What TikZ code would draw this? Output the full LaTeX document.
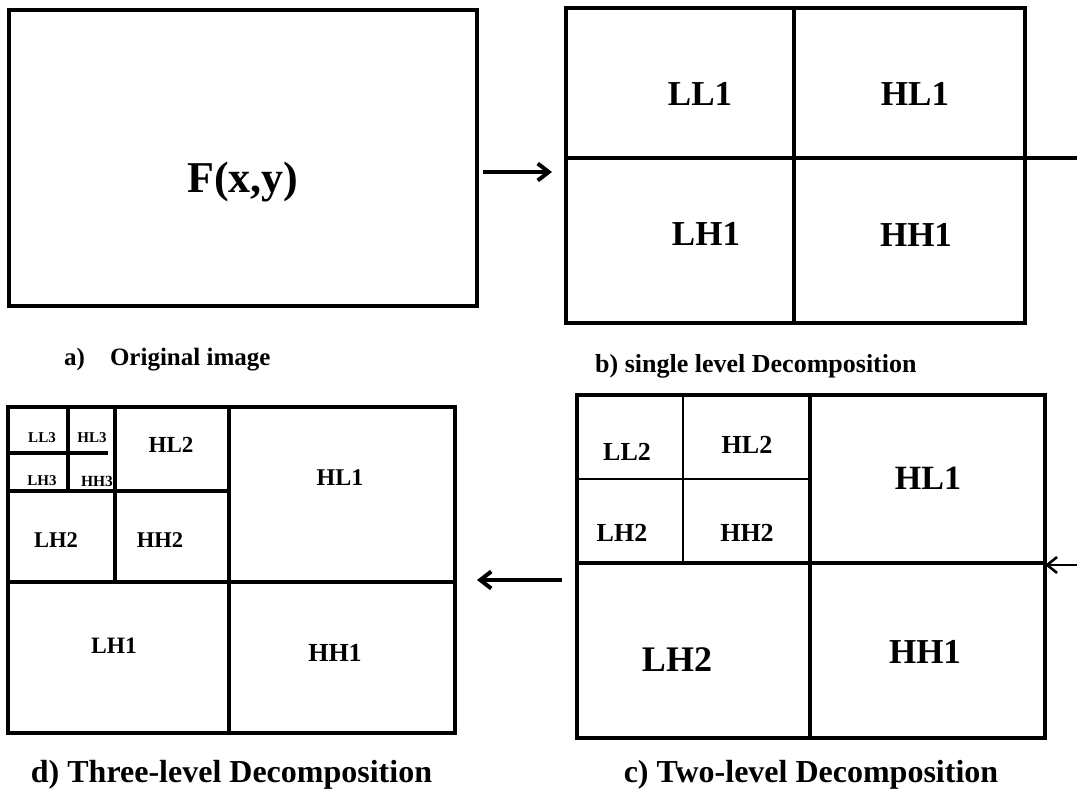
\documentclass[tikz,border=0pt]{standalone}
\usepackage{fontspec}
\setmainfont{Liberation Serif}
\usetikzlibrary{arrows.meta}
\newcommand{\wavefont}[1]{\fontsize{#1}{#1}\selectfont\bfseries}
\tikzstyle{wave_panel} = [rectangle, draw, line width = 4pt, inner sep = 0pt, outer sep = 0pt]
\tikzstyle{wave_split} = [line width = 4pt]
\tikzstyle{wave_thin_split} = [line width = 1.4pt]
\tikzstyle{wave_label} = [inner sep = 0pt]
\tikzstyle{wave_caption} = [inner sep = 0pt, anchor = base west]
\tikzstyle{wave_arrow} = [line width = 4pt, -{Straight Barb[length = 11pt, width = 17pt]}]
\tikzstyle{wave_arrow_thin} = [line width = 2.6pt, -{Straight Barb[length = 10pt, width = 16pt]}]

\begin{document}
\begin{tikzpicture}[x = 1pt, y = -1pt]
    \useasboundingbox (0, 0) rectangle (1077, 803);
    % panels
    \node [wave_panel, minimum width = 468pt, minimum height = 296pt] (orig) at (243, 158) {};
    \node [wave_panel, minimum width = 459pt, minimum height = 315pt] (single) at (795.5, 165.5) {};
    \node [wave_panel, minimum width = 468pt, minimum height = 343pt] (two) at (811, 566.5) {};
    \node [wave_panel, minimum width = 447pt, minimum height = 326pt] (three) at (231.5, 570) {};

    % single level
    \draw [wave_split] (794, 8) -- (794, 323);
    \draw [wave_split] (566, 158) -- (1025, 158);
    % two level
    \draw [wave_split] (810, 395) -- (810, 738);
    \draw [wave_split] (577, 563) -- (1045, 563);
    \draw [wave_thin_split] (683, 395) -- (683, 563);
    \draw [wave_thin_split] (577, 479) -- (810, 479);
    % three level
    \draw [wave_split] (229, 407) -- (229, 733);
    \draw [wave_split] (8, 582) -- (455, 582);
    \draw [wave_split] (115, 407) -- (115, 582);
    \draw [wave_split] (8, 491) -- (229, 491);
    \draw [wave_split] (68, 407) -- (68, 491);
    \draw [wave_split] (8, 453) -- (108, 453);

    % labels
    \node [wave_label, font = \wavefont{44}] (fxy) at (243, 182) {F(x,y)};

    \node [wave_label, font = \wavefont{35}] (b_ll1) at (700, 94) {LL1};
    \node [wave_label, font = \wavefont{35}] (b_hl1) at (915, 94) {HL1};
    \node [wave_label, font = \wavefont{35}] (b_lh1) at (706, 234) {LH1};
    \node [wave_label, font = \wavefont{35}] (b_hh1) at (916, 235) {HH1};

    \node [wave_label, font = \wavefont{26}] (c_ll2) at (627, 452) {LL2};
    \node [wave_label, font = \wavefont{26}] (c_hl2) at (747, 445) {HL2};
    \node [wave_label, font = \wavefont{26}] (c_lh2) at (622, 533) {LH2};
    \node [wave_label, font = \wavefont{26}] (c_hh2) at (747, 533) {HH2};
    \node [wave_label, font = \wavefont{34}] (c_hl1) at (928, 478) {HL1};
    \node [wave_label, font = \wavefont{36}] (c_lh2_big) at (677, 660) {LH2};
    \node [wave_label, font = \wavefont{35}] (c_hh1) at (925, 652) {HH1};

    \node [wave_label, font = \wavefont{15}] (d_ll3) at (42, 438) {LL3};
    \node [wave_label, font = \wavefont{15}] (d_hl3) at (92, 438) {HL3};
    \node [wave_label, font = \wavefont{15}] (d_lh3) at (42, 481) {LH3};
    \node [wave_label, font = \wavefont{15.5}] (d_hh3) at (97, 481) {HH3};
    \node [wave_label, font = \wavefont{23}] (d_hl2) at (171, 445) {HL2};
    \node [wave_label, font = \wavefont{22.5}] (d_lh2) at (56, 540) {LH2};
    \node [wave_label, font = \wavefont{22.5}] (d_hh2) at (160, 540) {HH2};
    \node [wave_label, font = \wavefont{24}] (d_hl1) at (340, 478) {HL1};
    \node [wave_label, font = \wavefont{23.5}] (d_lh1) at (114, 646) {LH1};
    \node [wave_label, font = \wavefont{26}] (d_hh1) at (335, 653) {HH1};

    % captions
    \node [wave_caption, font = \wavefont{25}] (cap_a) at (64, 365) {a)\quad Original image};
    \node [wave_caption, font = \wavefont{26}] (cap_b) at (595, 372) {b) single level Decomposition};
    \node [wave_caption, anchor = base, font = \wavefont{32}] (cap_d) at (231.5, 782) {d) Three-level Decomposition};
    \node [wave_caption, anchor = base, font = \wavefont{32}] (cap_c) at (811, 782) {c) Two-level Decomposition};

    % connectors
    \coordinate (ab_tail) at (483, 172);
    \coordinate (ab_head) at (552, 172);
    \draw [wave_arrow] (ab_tail) -- (ab_head);

    \coordinate (bc_top) at (1079, 158);
    \coordinate (bc_bottom) at (1079, 565);
    \draw [wave_split] (single.east |- bc_top) -- (bc_top) -- (bc_bottom);
    \draw [wave_arrow_thin] (bc_bottom) -- (two.east |- bc_bottom);

    \coordinate (cd_tail) at (562, 580);
    \coordinate (cd_head) at (477, 580);
    \draw [wave_arrow] (cd_tail) -- (cd_head);
\end{tikzpicture}
\end{document}
